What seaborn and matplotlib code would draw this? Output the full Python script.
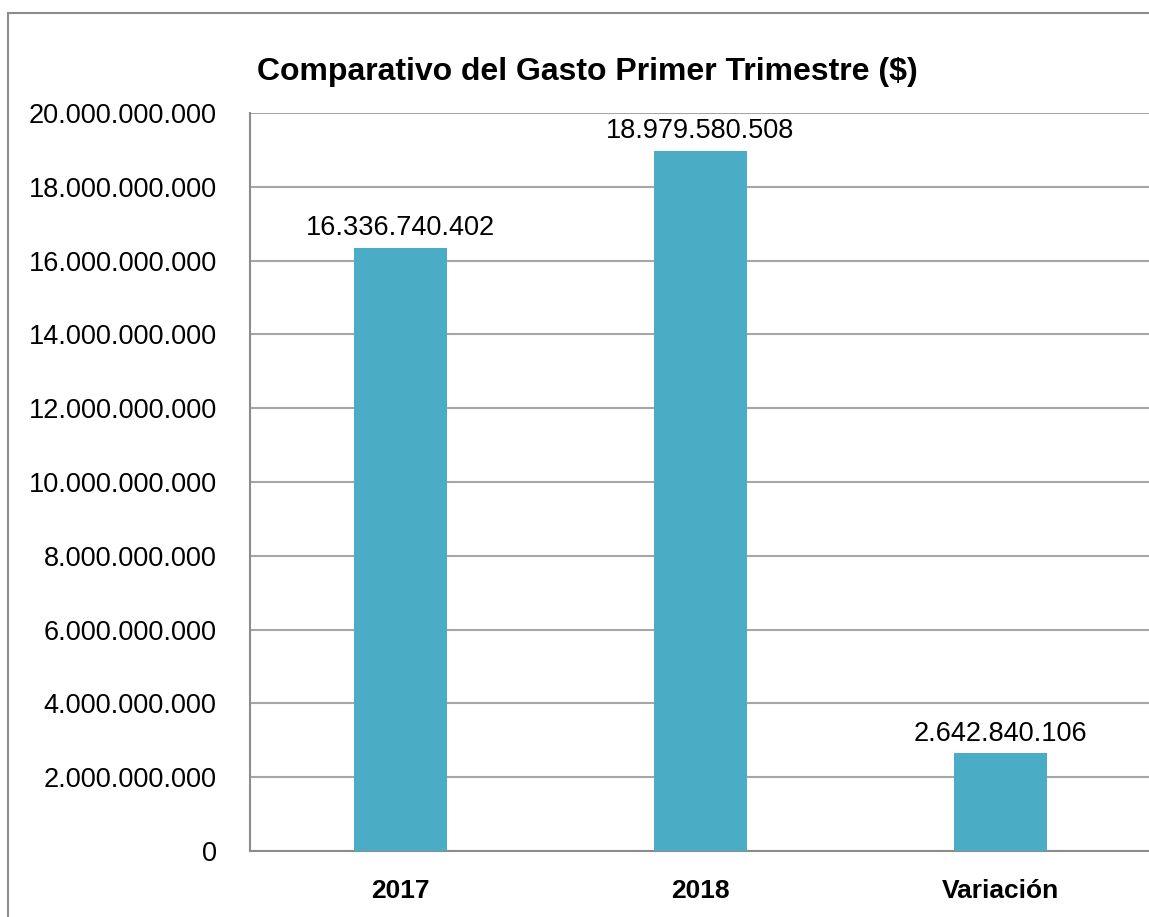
import matplotlib
matplotlib.use("Agg")
import matplotlib.pyplot as plt
import matplotlib.ticker as mticker
from matplotlib.patches import Rectangle
import seaborn as sns
import pandas as pd

# Data
categorias = ["2017", "2018", "Variación"]
gasto = [16336740402, 18979580508, 2642840106]
y_ticks = list(range(0, 20000000001, 2000000000))

def miles(v, pos=None):
    return f"{v:,.0f}".replace(",", ".")

sns.set_style("white")
plt.rcParams["font.family"] = ["Liberation Sans", "DejaVu Sans"]
plt.rcParams["text.color"] = "black"
plt.rcParams["xtick.color"] = "black"
plt.rcParams["ytick.color"] = "black"

df = pd.DataFrame({"categoria": categorias, "gasto": gasto})

fig = plt.figure(figsize=(11.49, 9.17), dpi=100)
W, H = 1149, 917
ax = fig.add_axes([250 / W, (H - 851) / H, 900 / W, (851 - 113) / H])

sns.barplot(data=df, x="categoria", y="gasto", color="#4BACC6", width=0.31,
            saturation=1, linewidth=0, ax=ax, zorder=3)

ax.set_xlim(-0.5, 2.5)
ax.set_ylim(0, 20000000000)
ax.set_yticks(y_ticks)
ax.yaxis.set_major_formatter(mticker.FuncFormatter(miles))
ax.grid(axis="y", color="#a6a6a6", linewidth=1.5, zorder=0)
ax.set_axisbelow(True)
ax.set_xlabel("")
ax.set_ylabel("")

for s in ["top", "right"]:
    ax.spines[s].set_visible(False)
for s in ["left", "bottom"]:
    ax.spines[s].set_color("#8c8c8c")
    ax.spines[s].set_linewidth(1.5)

ax.tick_params(axis="y", length=0, pad=24, labelsize=19.5)
ax.tick_params(axis="x", length=0, pad=20, labelsize=19)
for lbl in ax.get_xticklabels():
    lbl.set_fontweight("bold")

for cont in ax.containers:
    ax.bar_label(cont, labels=[miles(v) for v in gasto], padding=5, fontsize=19.5)

fig.text(587 / W, (H - 72) / H, "Comparativo del Gasto Primer Trimestre ($)",
         ha="center", va="center", fontsize=23, fontweight="bold")

# outer chart border (cropped at right and bottom)
fig.patches.append(Rectangle((8 / W, -0.1), 1.2, (H - 13) / H + 0.1,
                             transform=fig.transFigure, fill=False,
                             edgecolor="#8c8c8c", linewidth=1.5))

fig.savefig("out.png", dpi=100)
